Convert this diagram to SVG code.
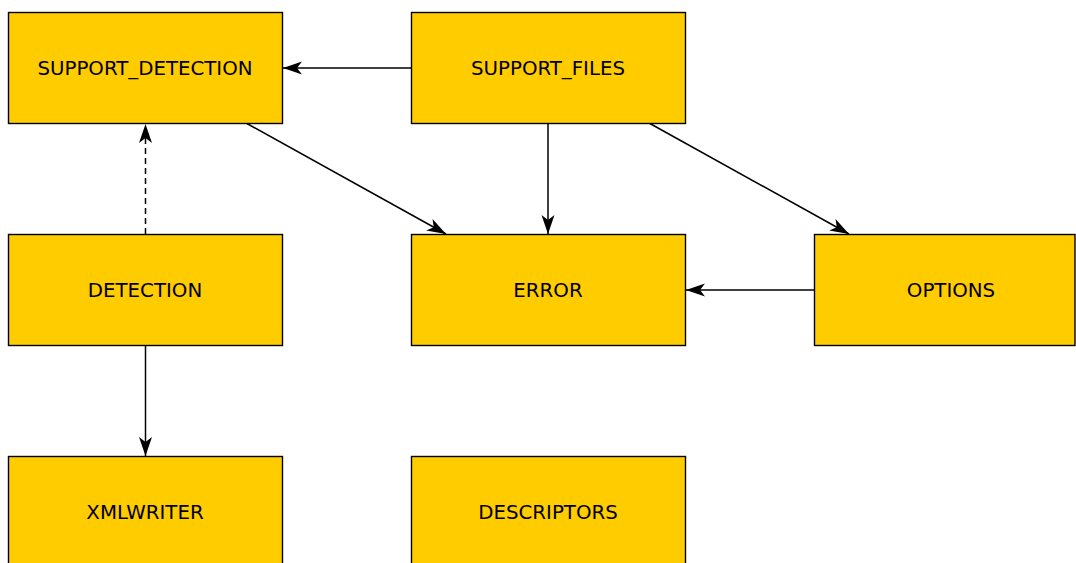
<svg xmlns="http://www.w3.org/2000/svg" width="1076" height="563" viewBox="0 0 1076 563">
<style>
.box{fill:#ffcc00;stroke:#000;stroke-width:1.4}
.lbl{font-family:"DejaVu Sans",sans-serif;font-size:19.8px;fill:#000;text-anchor:middle;dominant-baseline:central}
.edge{stroke:#000;stroke-width:1.5;fill:none;marker-end:url(#ah)}
.dash{stroke-dasharray:6,4}
</style>
<defs>
<marker id="ah" markerUnits="userSpaceOnUse" markerWidth="20" markerHeight="14" refX="19" refY="7" orient="auto">
<path d="M0,0.5 L19,7 L0,13.5 L5,7 Z" fill="#000"/>
</marker>
</defs>
<rect width="1076" height="563" fill="#fff"/>
<g id="connectors">
<line class="edge" x1="411" y1="68" x2="283" y2="68"/>
<line class="edge" x1="246" y1="123" x2="446" y2="234"/>
<line class="edge" x1="548" y1="123" x2="548" y2="234"/>
<line class="edge" x1="649" y1="123" x2="849" y2="234"/>
<line class="edge" x1="814" y1="290" x2="686" y2="290"/>
<line class="edge dash" x1="145.5" y1="234" x2="145.5" y2="124"/>
<line class="edge" x1="145.5" y1="345" x2="145.5" y2="456"/>
</g>
<g id="SUPPORT_DETECTION"><rect class="box" x="8.5" y="12.5" width="274" height="111"/><text class="lbl" x="145" y="68">SUPPORT_DETECTION</text></g>
<g id="SUPPORT_FILES"><rect class="box" x="411.5" y="12.5" width="274" height="111"/><text class="lbl" x="548" y="68">SUPPORT_FILES</text></g>
<g id="DETECTION"><rect class="box" x="8.5" y="234.5" width="274" height="111"/><text class="lbl" x="145" y="290">DETECTION</text></g>
<g id="ERROR"><rect class="box" x="411.5" y="234.5" width="274" height="111"/><text class="lbl" x="548" y="290">ERROR</text></g>
<g id="OPTIONS"><rect class="box" x="814.5" y="234.5" width="260.5" height="111"/><text class="lbl" x="951" y="290">OPTIONS</text></g>
<g id="XMLWRITER"><rect class="box" x="8.5" y="456.5" width="274" height="111"/><text class="lbl" x="145" y="512">XMLWRITER</text></g>
<g id="DESCRIPTORS"><rect class="box" x="411.5" y="456.5" width="274" height="111"/><text class="lbl" x="548" y="512">DESCRIPTORS</text></g>
</svg>
